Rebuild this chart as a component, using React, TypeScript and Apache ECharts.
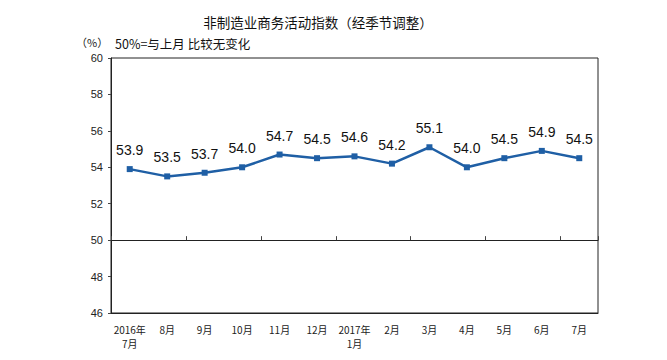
import React, { useEffect, useRef } from "react";
import * as echarts from "echarts";

const categories = ["2016年\n7月", "8月", "9月", "10月", "11月", "12月", "2017年\n1月", "2月", "3月", "4月", "5月", "6月", "7月"];
const values = [53.9, 53.5, 53.7, 54.0, 54.7, 54.5, 54.6, 54.2, 55.1, 54.0, 54.5, 54.9, 54.5];
const yMin = 46;
const yMax = 60;
const yInterval = 2;
const title = "非制造业商务活动指数（经季节调整）";
const unitText = "（%）";
const noteText = "50%=与上月 比较无变化";

export default function App() {
  const ref = useRef<HTMLDivElement>(null);
  useEffect(() => {
    if (!ref.current) return;
    const chart = echarts.init(ref.current, null, { renderer: "svg" });
    const gridTop = 58, gridBottom = 47;
    const plotH = 360 - gridTop - gridBottom;
    const offset50 = -((50 - yMin) / (yMax - yMin)) * plotH;
    chart.setOption({
      animation: false,
      backgroundColor: "#fff",
      textStyle: { fontFamily: "'Liberation Sans', 'Noto Sans CJK SC', sans-serif" },
      title: {
        text: title,
        left: 313,
        textAlign: "center",
        top: 10,
        textStyle: { fontSize: 13.5, fontWeight: "normal", color: "#111", fontFamily: "'Noto Sans CJK SC', sans-serif" },
      },
      graphic: [
        { type: "text", left: 76, top: 36, style: { text: unitText, fontSize: 11, fill: "#222", fontFamily: "'Noto Sans CJK SC', sans-serif" } },
        { type: "text", left: 115, top: 37, style: { text: noteText, fontSize: 12.5, fill: "#111", fontFamily: "'Noto Sans CJK SC', sans-serif" } },
      ],
      grid: { left: 111, right: 69, top: gridTop, bottom: gridBottom, show: true, borderColor: "#222", borderWidth: 1 },
      xAxis: [
        {
          type: "category",
          data: categories,
          boundaryGap: true,
          position: "bottom",
          axisLine: { show: true, lineStyle: { color: "#222", width: 1 } },
          axisTick: { show: false },
          axisLabel: { fontSize: 10, color: "#222", margin: 9, lineHeight: 14, interval: 0, fontFamily: "'Noto Sans CJK SC', sans-serif" },
        },
        {
          type: "category",
          data: categories,
          boundaryGap: true,
          position: "bottom",
          offset: offset50,
          axisLine: { show: true, lineStyle: { color: "#222", width: 1 } },
          axisTick: { show: true, inside: true, length: 4, lineStyle: { color: "#444" } },
          axisLabel: { show: false },
        },
      ],
      yAxis: {
        type: "value",
        min: yMin,
        max: yMax,
        interval: yInterval,
        axisLine: { show: true, lineStyle: { color: "#222", width: 1 } },
        axisTick: { show: true, length: 3, lineStyle: { color: "#444" } },
        splitLine: { show: false },
        axisLabel: { fontSize: 11, color: "#222", margin: 8 },
      },
      series: [
        {
          type: "line",
          data: values,
          xAxisIndex: 0,
          symbol: "rect",
          symbolSize: 6,
          lineStyle: { color: "#1F5FA5", width: 2.5 },
          itemStyle: { color: "#1F5FA5" },
          label: {
            show: true,
            position: "top",
            distance: 9,
            fontSize: 14,
            color: "#111",
            formatter: (p: any) => Number(p.value).toFixed(1),
          },
        },
      ],
    });
    return () => chart.dispose();
  }, []);
  return <div ref={ref} style={{ width: 667, height: 360, margin: -8 }} />;
}
